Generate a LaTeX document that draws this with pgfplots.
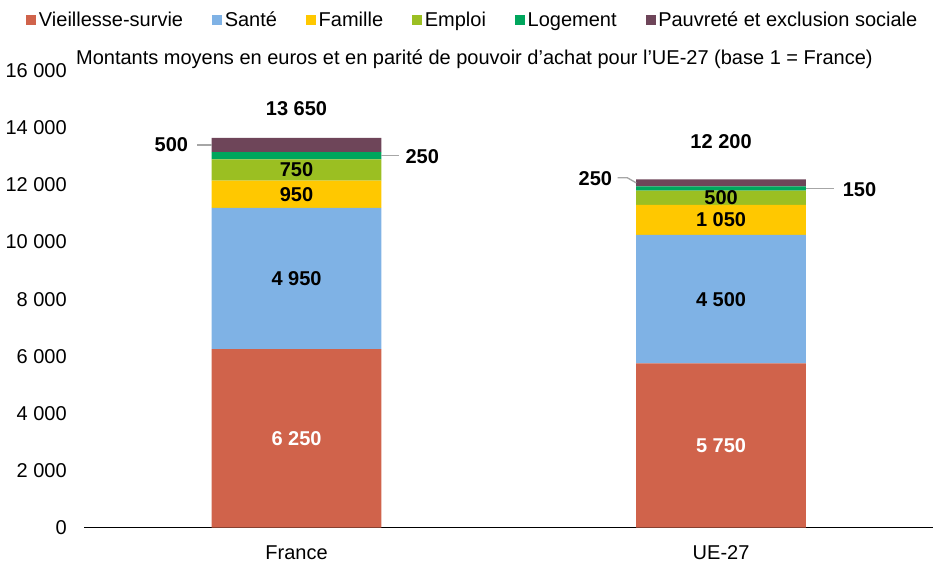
\documentclass[border=0pt]{standalone}
\usepackage{fontspec}
\setmainfont{Liberation Sans}
\usepackage{pgfplots}
\pgfplotsset{compat=1.18}

\definecolor{cvie}{HTML}{D0634B}
\definecolor{csan}{HTML}{7FB2E5}
\definecolor{cfam}{HTML}{FFC800}
\definecolor{cemp}{HTML}{9BBF22}
\definecolor{clog}{HTML}{00A65D}
\definecolor{cpau}{HTML}{6E4559}
\definecolor{cline}{HTML}{A6A6A6}

\begin{document}
\begin{tikzpicture}[lab/.style={font=\fontsize{12}{14}\selectfont\bfseries}]
\begin{axis}[
    scale only axis,
    width=509.4pt, height=274.2pt,
    ybar stacked,
    bar width=0.4,
    every axis plot post/.append style={
        draw=none,
        legend image code/.code={\fill[##1] (0pt,-3pt) rectangle (6pt,3.3pt);}},
    xmin=-0.5, xmax=1.5,
    ymin=0, ymax=16000,
    xtick={0,1}, xticklabels={France,UE-27},
    ytick={0,2000,...,16000},
    scaled y ticks=false,
    axis x line*=bottom, axis y line*=left,
    y axis line style={draw=none},
    x axis line style={line width=0.8pt},
    tick style={draw=none},
    font=\fontsize{12}{14}\selectfont,
    /pgf/number format/1000 sep={\ },
    /pgf/number format/assume math mode=true,
    yticklabel style={xshift=-7pt},
    xticklabel style={yshift=-7pt},
    legend columns=6,
    legend style={at={(0.458,1.11)}, anchor=center, draw=none, fill=none,
        font=\fontsize{12}{14}\selectfont, nodes={inner sep=1.5pt},
        /tikz/every even column/.append style={column sep=16pt}},
    clip=false,
]
\addplot[fill=cvie] coordinates {(0,6250) (1,5750)};
\addplot[fill=csan] coordinates {(0,4950) (1,4500)};
\addplot[fill=cfam] coordinates {(0,950) (1,1050)};
\addplot[fill=cemp] coordinates {(0,750) (1,500)};
\addplot[fill=clog] coordinates {(0,250) (1,150)};
\addplot[fill=cpau] coordinates {(0,500) (1,250)};
\legend{Vieillesse-survie, Santé, Famille, Emploi, Logement, Pauvreté et exclusion sociale}

% positions des libellés
\coordinate (f1) at (axis cs:0,3125);
\coordinate (f2) at (axis cs:0,8725);
\coordinate (f3) at (axis cs:0,11675);
\coordinate (f4) at (axis cs:0,12525);
\coordinate (u1) at (axis cs:1,2875);
\coordinate (u2) at (axis cs:1,8000);
\coordinate (u3) at (axis cs:1,10775);
\coordinate (u4) at (axis cs:1,11550);
\coordinate (ft) at (axis cs:0,14670);
\coordinate (ut) at (axis cs:1,13514);
\coordinate (f6a) at (axis cs:-0.234,13400);
\coordinate (f6b) at (axis cs:-0.2,13400);
\coordinate (f6) at (axis cs:-0.295,13400);
\coordinate (f5a) at (axis cs:0.2,13025);
\coordinate (f5b) at (axis cs:0.242,13025);
\coordinate (f5) at (axis cs:0.296,12990);
\coordinate (u6a) at (axis cs:0.756,12254);
\coordinate (u6m) at (axis cs:0.779,12254);
\coordinate (u6b) at (axis cs:0.8,12075);
\coordinate (u6) at (axis cs:0.704,12219);
\coordinate (u5a) at (axis cs:1.2,11875);
\coordinate (u5b) at (axis cs:1.267,11875);
\coordinate (u5) at (axis cs:1.326,11850);
\coordinate (sub) at ([yshift=4pt]rel axis cs:-0.01,1);
\end{axis}

\node[lab, white] at (f1) {6 250};
\node[lab] at (f2) {4 950};
\node[lab] at (f3) {950};
\node[lab] at (f4) {750};
\node[lab, white] at (u1) {5 750};
\node[lab] at (u2) {4 500};
\node[lab] at (u3) {1 050};
\node[lab] at (u4) {500};
\node[lab] at (ft) {13 650};
\node[lab] at (ut) {12 200};
\draw[cline, line width=0.8pt] (f6a) -- (f6b);
\node[lab] at (f6) {500};
\draw[cline, line width=0.8pt] (f5a) -- (f5b);
\node[lab] at (f5) {250};
\draw[cline, line width=0.8pt] (u6a) -- (u6m) -- (u6b);
\node[lab] at (u6) {250};
\draw[cline, line width=0.8pt] (u5a) -- (u5b);
\node[lab] at (u5) {150};
\node[anchor=base west, font=\fontsize{12}{14}\selectfont, inner sep=0pt]
    at (sub) {Montants moyens en euros et en parité de pouvoir d’achat pour l’UE-27 (base 1 = France)};
% marge haute
\path ([yshift=3.6pt]current bounding box.north) coordinate (top);
\end{tikzpicture}
\end{document}
